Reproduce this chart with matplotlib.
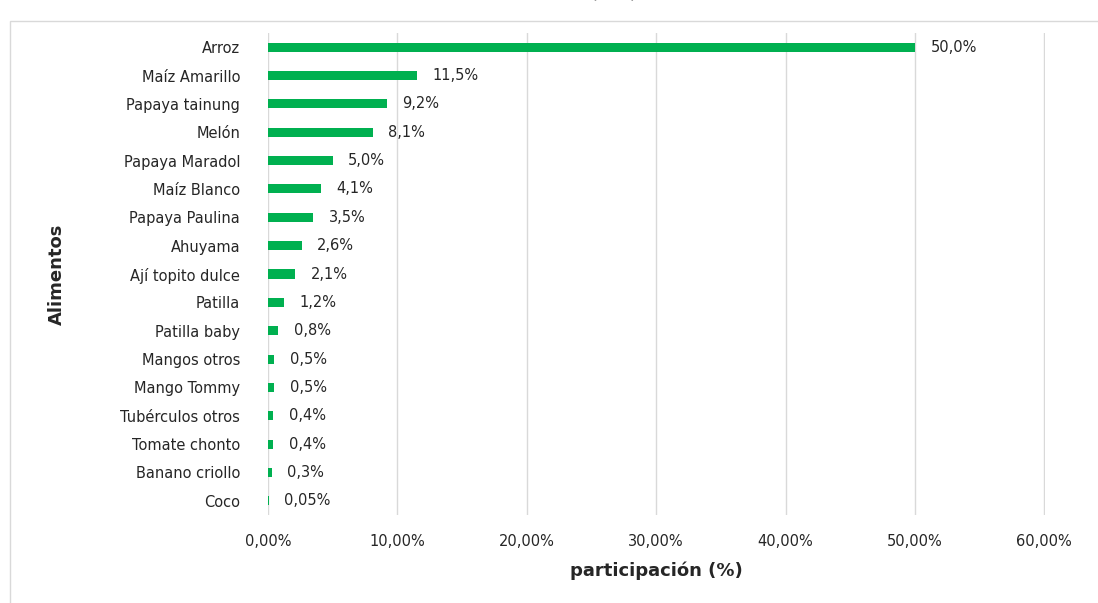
import numpy as np
import matplotlib.pyplot as plt
from matplotlib.patches import Rectangle

plt.rcParams['font.family'] = ['DejaVu Sans']

# productos y participacion (%)
alimentos = ["Arroz", "Maíz Amarillo", "Papaya tainung", "Melón", "Papaya Maradol",
             "Maíz Blanco", "Papaya Paulina", "Ahuyama", "Ají topito dulce", "Patilla",
             "Patilla baby", "Mangos otros", "Mango Tommy", "Tubérculos otros",
             "Tomate chonto", "Banano criollo", "Coco"]
participacion = [50.0, 11.5, 9.2, 8.1, 5.0, 4.1, 3.5, 2.6, 2.1, 1.2,
                 0.8, 0.5, 0.5, 0.4, 0.4, 0.3, 0.05]
etiquetas = ["50,0%", "11,5%", "9,2%", "8,1%", "5,0%", "4,1%", "3,5%", "2,6%", "2,1%",
             "1,2%", "0,8%", "0,5%", "0,5%", "0,4%", "0,4%", "0,3%", "0,05%"]
ticks = [0, 10, 20, 30, 40, 50, 60]
tick_labels = ["0,00%", "10,00%", "20,00%", "30,00%", "40,00%", "50,00%", "60,00%"]

fig = plt.figure(figsize=(10.98, 6.03), dpi=100)
fig.patches.append(Rectangle((10 / 1098, -0.01), 1.1, 1 - 21 / 603 + 0.01,
                             transform=fig.transFigure, fill=False,
                             edgecolor='#d9d9d9', lw=1))
# titulo cortado en el borde superior, como en el original
fig.text(0.485, 1.013, "comercializadas (ton)", ha='center', va='center',
         fontsize=14, color='#404040')

ax = fig.add_axes([268 / 1098, 88 / 603, (1045 - 268) / 1098, (570 - 88) / 603])
y = np.arange(len(alimentos))
ax.barh(y, participacion, height=0.32, color='#00B050', zorder=3)
for yi, v, t in zip(y, participacion, etiquetas):
    ax.text(v + 1.2, yi, t, va='center', ha='left', fontsize=10.5, color='#262626')

ax.set_yticks(y)
ax.set_yticklabels(alimentos, fontsize=10.5, color='#262626')
ax.set_ylim(len(alimentos) - 0.5, -0.5)
ax.set_xlim(0, 60.05)
ax.set_xticks(ticks)
ax.set_xticklabels(tick_labels, fontsize=10.5, color='#262626')
ax.tick_params(axis='y', length=0, pad=20)
ax.tick_params(axis='x', length=0, pad=14)
ax.xaxis.grid(True, color='#d9d9d9', lw=1, zorder=0)
for s in ax.spines.values():
    s.set_visible(False)
ax.set_xlabel("participación (%)", fontsize=13, fontweight='bold', color='#262626', labelpad=9)
ax.set_ylabel("Alimentos", fontsize=13, fontweight='bold', color='#262626')
ax.yaxis.set_label_coords(-0.26, 0.5)

fig.savefig("out.png", dpi=100)
